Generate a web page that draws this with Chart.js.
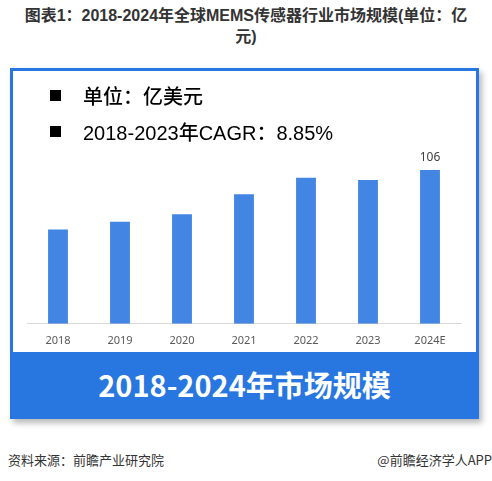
<!DOCTYPE html>
<html>
<head>
<meta charset="utf-8">
<script src="https://cdn.jsdelivr.net/npm/chart.js@4.4.1/dist/chart.umd.min.js"></script>
<style>
    html, body { margin: 0; padding: 0; background: #fff; }
    body { width: 492px; height: 481px; position: relative; overflow: hidden;
        font-family: "Noto Sans CJK SC", "Noto Sans", sans-serif; }
    .title { position: absolute; left: 0; top: 5px; width: 492px; text-align: center;
        font-size: 16px; font-weight: bold; color: #333; line-height: 21px;
        font-family: "Liberation Sans", "Noto Sans CJK SC", sans-serif; }
    .box { position: absolute; left: 10px; top: 68px; width: 463px; height: 345px;
        border: 3px solid #2877e0; background: #fff; box-shadow: 3px 4px 6px rgba(0,0,0,0.28); }
    .band { position: absolute; left: 0; top: 281px; width: 463px; height: 64px; background: #2877e0;
        color: #fff; font-size: 29px; font-weight: bold; text-align: center; line-height: 64px; }
    #wrap { position: absolute; left: 0; top: 1px; }
    .legend { position: absolute; left: 37px; font-size: 20px; color: #000; line-height: 24px;
        font-weight: 500; font-family: "Liberation Sans", "Noto Sans CJK SC", sans-serif; }
    .legend span.sq { display: inline-block; width: 11px; height: 11px; background: #000;
        margin-right: 22px; vertical-align: 3px; }
    .foot { position: absolute; top: 451px; font-size: 13px; color: #333; line-height: 18px; }
</style>
</head>
<body>
<div class="title">图表1：2018-2024年全球MEMS传感器行业市场规模(单位：亿<br>元)</div>

<div class="box">
    <div id="wrap"><canvas id="marketChart" width="463" height="286"></canvas></div>
    <div class="legend" style="top: 14px;"><span class="sq"></span>单位：亿美元</div>
    <div class="legend" style="top: 50px;"><span class="sq"></span>2018-2023年CAGR：8.85%</div>
    <div class="band">2018-2024年市场规模</div>
</div>

<div class="foot" style="left: 8px;">资料来源：前瞻产业研究院</div>
<div class="foot" style="right: 0;">@前瞻经济学人APP</div>

<script>
// dữ liệu
const years = ['2018', '2019', '2020', '2021', '2022', '2023', '2024E'];
const marketSize = [65, 70.2, 75.5, 89.2, 100.5, 99.1, 106];
const shownLabels = ['', '', '', '', '', '', '106'];

// chỉ hiện nhãn cho cột cuối
const topLabels = {
    id: 'topLabels',
    afterDatasetsDraw(chart) {
        const ctx = chart.ctx;
        const meta = chart.getDatasetMeta(0);
        ctx.save();
        ctx.font = '12px "Noto Sans", sans-serif';
        ctx.fillStyle = '#404040';
        ctx.textAlign = 'center';
        ctx.textBaseline = 'bottom';
        meta.data.forEach((bar, i) => {
            if (!shownLabels[i]) return;
            ctx.fillText(shownLabels[i], bar.x, bar.y - 6);
        });
        ctx.restore();
    }
};

const ctx = document.getElementById('marketChart').getContext('2d');
new Chart(ctx, {
    type: 'bar',
    data: {
        labels: years,
        datasets: [{
            data: marketSize,
            backgroundColor: '#4285e3',
            borderWidth: 0,
            categoryPercentage: 1,
            barPercentage: 0.32
        }]
    },
    options: {
        responsive: false,
        animation: false,
        layout: { padding: { left: 14, right: 15, top: 34, bottom: 1 } },
        plugins: { legend: { display: false }, tooltip: { enabled: false } },
        scales: {
            x: {
                grid: { display: false, drawTicks: false },
                border: { display: true, color: '#d9d9d9', width: 1 },
                ticks: { color: '#595959', padding: 10, font: { size: 11, family: '"Noto Sans", sans-serif' } }
            },
            y: {
                display: false,
                min: 0,
                max: 150
            }
        }
    },
    plugins: [topLabels]
});
</script>
</body>
</html>
